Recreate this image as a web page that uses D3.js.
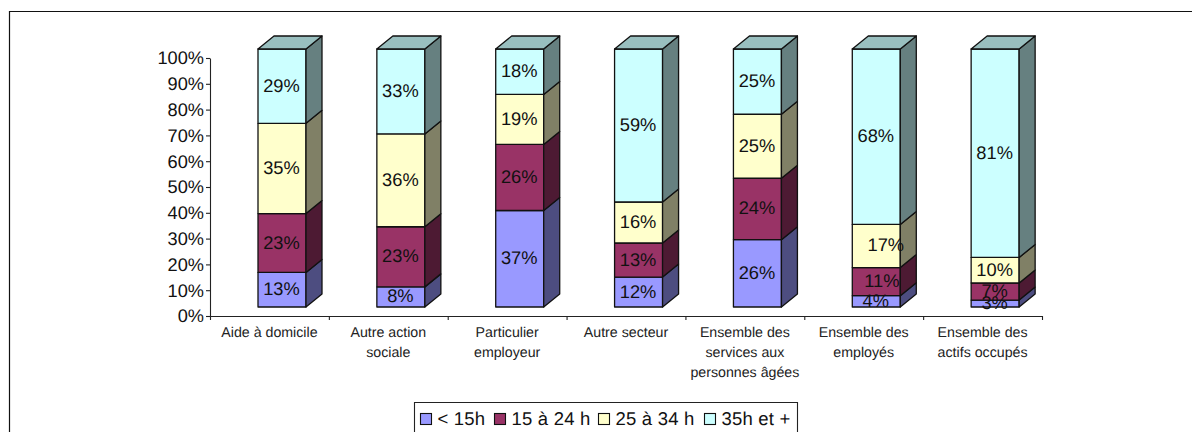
<!DOCTYPE html>
<html><head><meta charset="utf-8">
<script src="https://cdn.jsdelivr.net/npm/d3@7/dist/d3.min.js"></script>
<style>html,body{margin:0;padding:0;background:#fff}svg{display:block;font-family:"Liberation Sans",Arial,sans-serif;text-rendering:geometricPrecision}</style>
</head><body><svg id="c" width="1192" height="432"></svg>
<script>
const categories = [
  ["Aide à domicile"],
  ["Autre action","sociale"],
  ["Particulier","employeur"],
  ["Autre secteur"],
  ["Ensemble des","services aux","personnes âgées"],
  ["Ensemble des","employés"],
  ["Ensemble des","actifs occupés"]
];
const seriesNames = ["< 15h","15 à 24 h","25 à 34 h","35h et +"];
const under15 = [13.4, 7.8, 37.4, 11.6, 26.1, 4.4, 2.7];
const h15to24 = [22.8, 23.3, 25.6, 13.2, 23.8, 10.9, 6.6];
const h25to34 = [35.0, 36.0, 19.4, 15.9, 24.8, 16.7, 9.9];
const h35plus = [28.8, 32.9, 17.6, 59.3, 25.3, 68.0, 80.8];
const series = [under15, h15to24, h25to34, h35plus];
const yTicks = [0,10,20,30,40,50,60,70,80,90,100];
const frontColors = ["#9999FF","#993366","#FFFFCC","#CCFFFF"];
const sideColors  = ["#4D4D80","#4D1A33","#808066","#668080"];
const topColors   = ["#7373BF","#732650","#BFBF99","#99BFBF"];

const svg = d3.select("#c");
const X0=210, X1=1042, Y0=316, Y100=58;
const DX=16, DY=13, LIFT=9, BAROFF=48, BARW=48;
const idx = d3.range(categories.length);
const x = d3.scaleBand().domain(idx).range([X0,X1]);
const y = d3.scaleLinear().domain([0,100]).range([Y0,Y100]);
const pct = d3.format(".0f");

// frame
svg.append("path").attr("d","M9.5,432V11.5H1192").attr("fill","none").attr("stroke","#111").attr("stroke-width",1.2);

// axes
const gy = svg.append("g").attr("transform",`translate(${X0},0)`)
  .call(d3.axisLeft(y).tickValues(yTicks).tickSize(4).tickSizeOuter(0).tickFormat(d=>d+"%"));
gy.selectAll("text").attr("font-size",18.2).attr("font-family","Liberation Sans").attr("fill","#111").attr("x",-6);
const gxt = svg.append("g").attr("transform",`translate(0,${Y0})`)
  .call(d3.axisBottom(d3.scaleLinear().domain([0,7]).range([X0,X1])).tickValues(d3.range(8)).tickSize(4).tickSizeOuter(0).tickFormat(""));
svg.selectAll(".domain,.tick line").attr("stroke","#222").attr("stroke-width",1.1);
const gx = svg.append("g").attr("transform",`translate(0,${Y0})`)
  .call(d3.axisBottom(x).tickSize(0).tickFormat(""));
gx.select(".domain").remove();
gx.selectAll(".tick text").each(function(i){
  const t=d3.select(this).attr("font-size",14.2).attr("font-family","Liberation Sans").attr("fill","#222").attr("y",0).attr("dy",null);
  categories[i].forEach((l,k)=>t.append("tspan").attr("x",0).attr("y",20.5+k*20).text(l));
});

// bars
const nudge = {"5-2":10,"5-1":6};
const bars = svg.append("g").attr("stroke","#111").attr("stroke-width",1.3).attr("stroke-linejoin","round");
const labels = svg.append("g").attr("font-size",18.3).attr("fill","#111").attr("text-anchor","middle");
idx.forEach(i=>{
  const xl = x(i)+BAROFF, xr = xl+BARW;
  let cum = 0;
  series.forEach((s,k)=>{
    const v=s[i], b=y(cum)-LIFT, t=y(cum+v)-LIFT;
    bars.append("rect").attr("x",xl).attr("y",t).attr("width",BARW).attr("height",b-t).attr("fill",frontColors[k]);
    bars.append("polygon").attr("points",[[xr,b],[xr+DX,b-DY],[xr+DX,t-DY],[xr,t]].join(" ")).attr("fill",sideColors[k]);
    if(k===series.length-1){
      bars.append("polygon").attr("points",[[xl,t],[xl+DX,t-DY],[xr+DX,t-DY],[xr,t]].join(" ")).attr("fill",topColors[k]);
    }
    labels.append("text").attr("x",(xl+xr)/2-0.5+(nudge[i+"-"+k]||0)).attr("y",(b+t)/2+5.5).text(pct(v)+"%");
    cum+=v;
  });
});

// legend
const lg = svg.append("g");
lg.append("path").attr("d","M414.5,432V402.5H797.5V432").attr("fill","#fff").attr("stroke","#222").attr("stroke-width",1.1);
const swatchX = d3.scaleOrdinal().domain(seriesNames).range([420,494,598,704]);
seriesNames.forEach((n,k)=>{
  lg.append("rect").attr("x",swatchX(n)+.5).attr("y",413.5).attr("width",11).attr("height",11).attr("fill",frontColors[k]).attr("stroke","#111").attr("stroke-width",1.1);
  lg.append("text").attr("x",swatchX(n)+17.5).attr("y",425).attr("font-size",18.5).attr("letter-spacing",0.2).attr("fill","#111").text(n);
});
</script></body></html>
